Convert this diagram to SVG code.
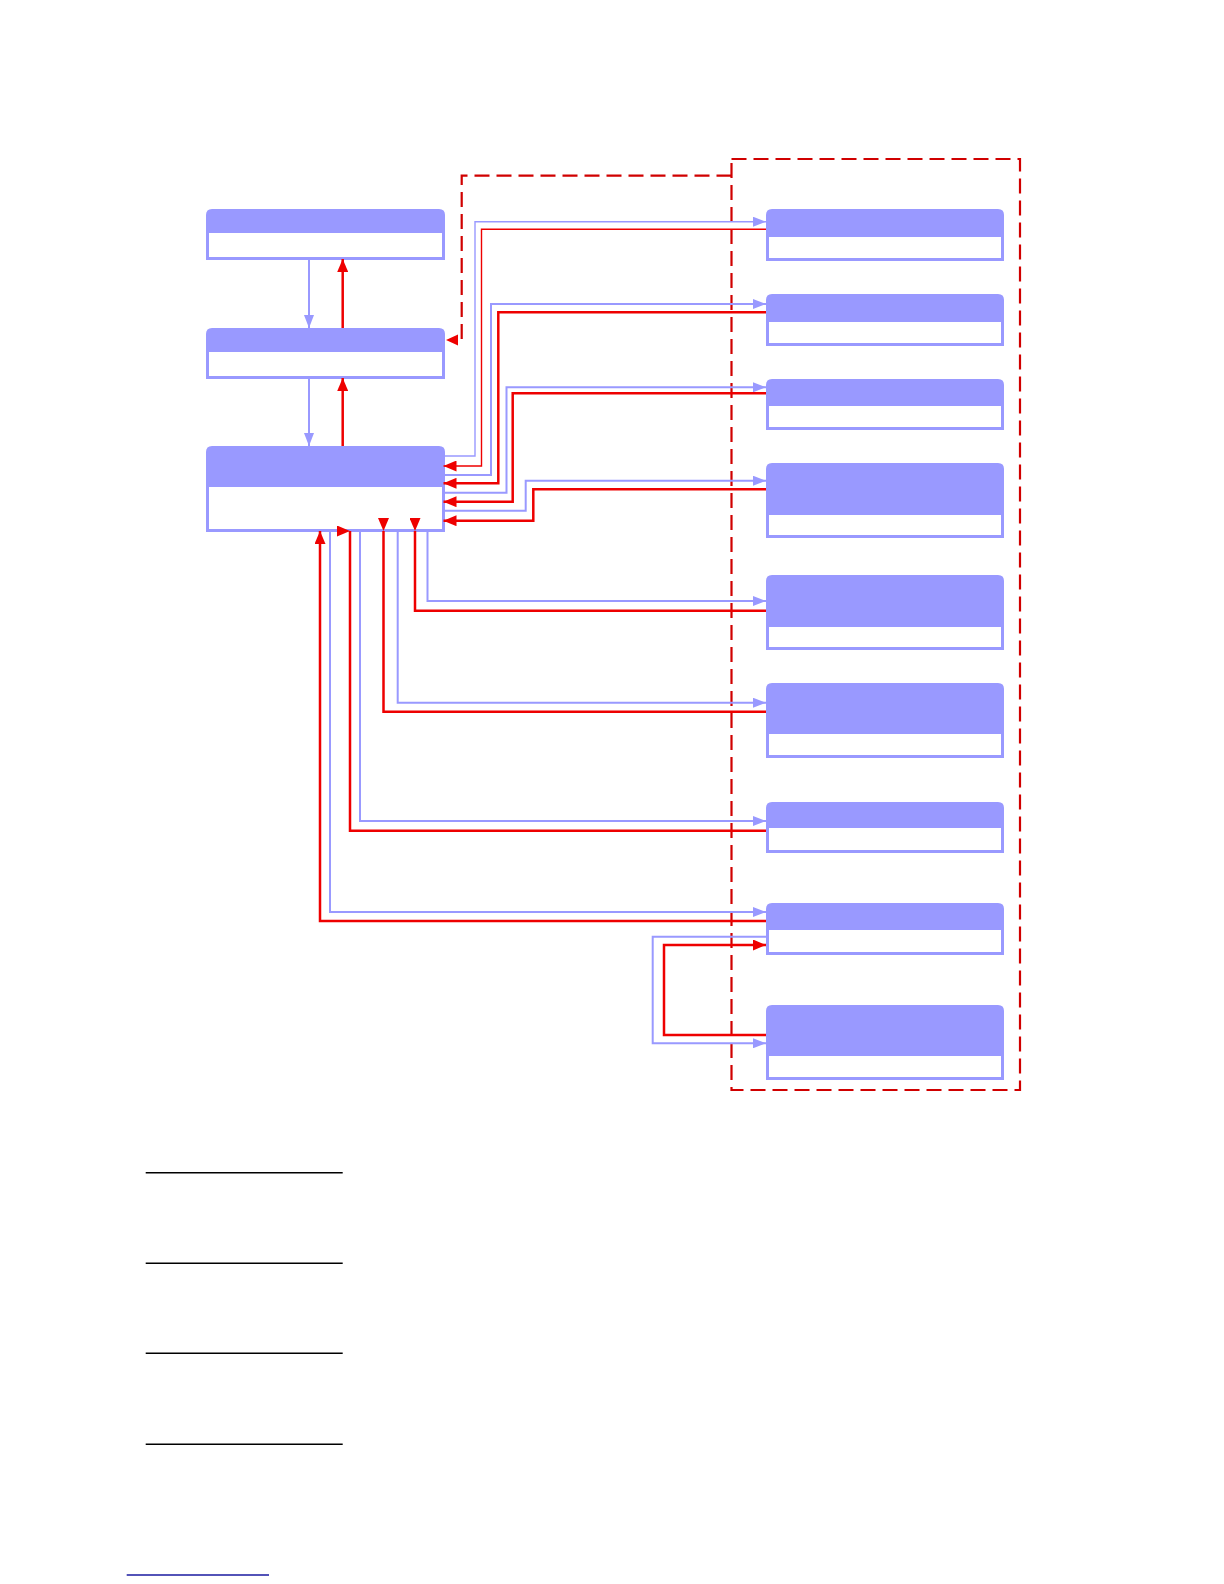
<svg xmlns="http://www.w3.org/2000/svg" width="1224" height="1584" viewBox="0 0 1224 1584">
<style>
.body{fill:#ffffff;stroke:#9999ff;stroke-width:3}
.head{fill:#9999ff}
.bl{fill:none;stroke:#9999ff;stroke-width:2}
.rd{fill:none;stroke:#ee0000;stroke-width:2.5}
.thin{stroke-width:1.4}
.dash{fill:none;stroke:#d00000;stroke-width:2.2;stroke-dasharray:15 7}
.rule{stroke:#000000;stroke-width:1.5}
</style>
<defs>
<marker id="ab" markerWidth="13" markerHeight="10" refX="13" refY="5" orient="auto" markerUnits="userSpaceOnUse"><path d="M0,0 L13,5 L0,10 z" fill="#9999ff"/></marker>
<marker id="ar" markerWidth="13" markerHeight="11" refX="13" refY="5.5" orient="auto" markerUnits="userSpaceOnUse"><path d="M0,0 L13,5.5 L0,11 z" fill="#ee0000"/></marker>
<marker id="ar0" markerWidth="13" markerHeight="11" refX="13" refY="5.5" orient="0" markerUnits="userSpaceOnUse"><path d="M0,0 L13,5.5 L0,11 z" fill="#ee0000"/></marker>
<marker id="ar90" markerWidth="13" markerHeight="11" refX="13" refY="5.5" orient="90" markerUnits="userSpaceOnUse"><path d="M0,0 L13,5.5 L0,11 z" fill="#ee0000"/></marker>
</defs>
<rect width="1224" height="1584" fill="#ffffff"/>

<g id="dashed-group">
<rect x="731.5" y="159" width="288.5" height="931" class="dash"/>
</g>

<g id="node-L1">
<rect class="body" x="207.5" y="226" width="236" height="32.5"/>
<path class="head" d="M206,233 V215 Q206,209 212,209 H439 Q445,209 445,215 V233 Z"/>
</g>
<g id="node-L2">
<rect class="body" x="207.5" y="345" width="236" height="32.5"/>
<path class="head" d="M206,352 V334 Q206,328 212,328 H439 Q445,328 445,334 V352 Z"/>
</g>
<g id="node-L3">
<rect class="body" x="207.5" y="480" width="236" height="50.5"/>
<path class="head" d="M206,487 V452 Q206,446 212,446 H439 Q445,446 445,452 V487 Z"/>
</g>

<g id="node-R1">
<rect class="body" x="767.5" y="230" width="235" height="29.5"/>
<path class="head" d="M766,237 V215 Q766,209 772,209 H998 Q1004,209 1004,215 V237 Z"/>
</g>
<g id="node-R2">
<rect class="body" x="767.5" y="315" width="235" height="29.5"/>
<path class="head" d="M766,322 V300 Q766,294 772,294 H998 Q1004,294 1004,300 V322 Z"/>
</g>
<g id="node-R3">
<rect class="body" x="767.5" y="399" width="235" height="29.5"/>
<path class="head" d="M766,406 V385 Q766,379 772,379 H998 Q1004,379 1004,385 V406 Z"/>
</g>
<g id="node-R4">
<rect class="body" x="767.5" y="508" width="235" height="28.5"/>
<path class="head" d="M766,515 V469 Q766,463 772,463 H998 Q1004,463 1004,469 V515 Z"/>
</g>
<g id="node-R5">
<rect class="body" x="767.5" y="620" width="235" height="28.5"/>
<path class="head" d="M766,627 V581 Q766,575 772,575 H998 Q1004,575 1004,581 V627 Z"/>
</g>
<g id="node-R6">
<rect class="body" x="767.5" y="727" width="235" height="29.5"/>
<path class="head" d="M766,734 V689 Q766,683 772,683 H998 Q1004,683 1004,689 V734 Z"/>
</g>
<g id="node-R7">
<rect class="body" x="767.5" y="821" width="235" height="30.5"/>
<path class="head" d="M766,828 V808 Q766,802 772,802 H998 Q1004,802 1004,808 V828 Z"/>
</g>
<g id="node-R8">
<rect class="body" x="767.5" y="923" width="235" height="30.5"/>
<path class="head" d="M766,930 V909 Q766,903 772,903 H998 Q1004,903 1004,909 V930 Z"/>
</g>
<g id="node-R9">
<rect class="body" x="767.5" y="1049" width="235" height="29.5"/>
<path class="head" d="M766,1056 V1011 Q766,1005 772,1005 H998 Q1004,1005 1004,1011 V1056 Z"/>
</g>

<g id="connectors">
<path class="dash" d="M731.5,175.7 H461.7 V340 H457"/>
<path d="M446,340 L458,334.5 L458,345.5 Z" fill="#ee0000"/>

<path class="bl" d="M309,259 V328" marker-end="url(#ab)"/>
<path class="rd" d="M342.7,328 V259" marker-end="url(#ar)"/>
<path class="bl" d="M309,378 V446" marker-end="url(#ab)"/>
<path class="rd" d="M342.7,446 V378" marker-end="url(#ar)"/>

<path class="bl thin" d="M443.5,456 H475 V221.7 H766" marker-end="url(#ab)"/>
<path class="rd thin" d="M766,229.3 H481.5 V466 H443.5" marker-end="url(#ar)"/>
<path class="bl" d="M443.5,475 H491 V304 H766" marker-end="url(#ab)"/>
<path class="rd" d="M766,312.3 H498.3 V483.3 H443.5" marker-end="url(#ar)"/>
<path class="bl" d="M443.5,492.7 H506.5 V387.3 H766" marker-end="url(#ab)"/>
<path class="rd" d="M766,393.3 H512.7 V501.7 H443.5" marker-end="url(#ar)"/>
<path class="bl" d="M443.5,510.7 H525.7 V480.7 H766" marker-end="url(#ab)"/>
<path class="rd" d="M766,489.3 H533.3 V520.7 H443.5" marker-end="url(#ar)"/>

<path class="bl" d="M427.5,531 V601 H766" marker-end="url(#ab)"/>
<path class="rd" d="M766,610.7 H415 V531" marker-end="url(#ar90)"/>
<path class="bl" d="M397.7,531 V702.7 H766" marker-end="url(#ab)"/>
<path class="rd" d="M766,711.7 H383.5 V531" marker-end="url(#ar90)"/>
<path class="bl" d="M360,531 V821 H766" marker-end="url(#ab)"/>
<path class="rd" d="M766,830.7 H350 V531" marker-end="url(#ar0)"/>
<path class="bl" d="M330,531 V912 H766" marker-end="url(#ab)"/>
<path class="rd" d="M766,921 H320 V531" marker-end="url(#ar)"/>

<path class="bl" d="M766,936.7 H652.7 V1043.3 H766" marker-end="url(#ab)"/>
<path class="rd" d="M766,1035 H664 V945 H766" marker-end="url(#ar)"/>
</g>

<g id="rules">
<line class="rule" x1="145.7" y1="1172.7" x2="342.7" y2="1172.7"/>
<line class="rule" x1="145.7" y1="1263.3" x2="342.7" y2="1263.3"/>
<line class="rule" x1="145.7" y1="1353.3" x2="342.7" y2="1353.3"/>
<line class="rule" x1="145.7" y1="1444.3" x2="342.7" y2="1444.3"/>
<line x1="126.7" y1="1575" x2="269" y2="1575" stroke="#1a1aa0" stroke-width="1.5"/>
</g>
</svg>
